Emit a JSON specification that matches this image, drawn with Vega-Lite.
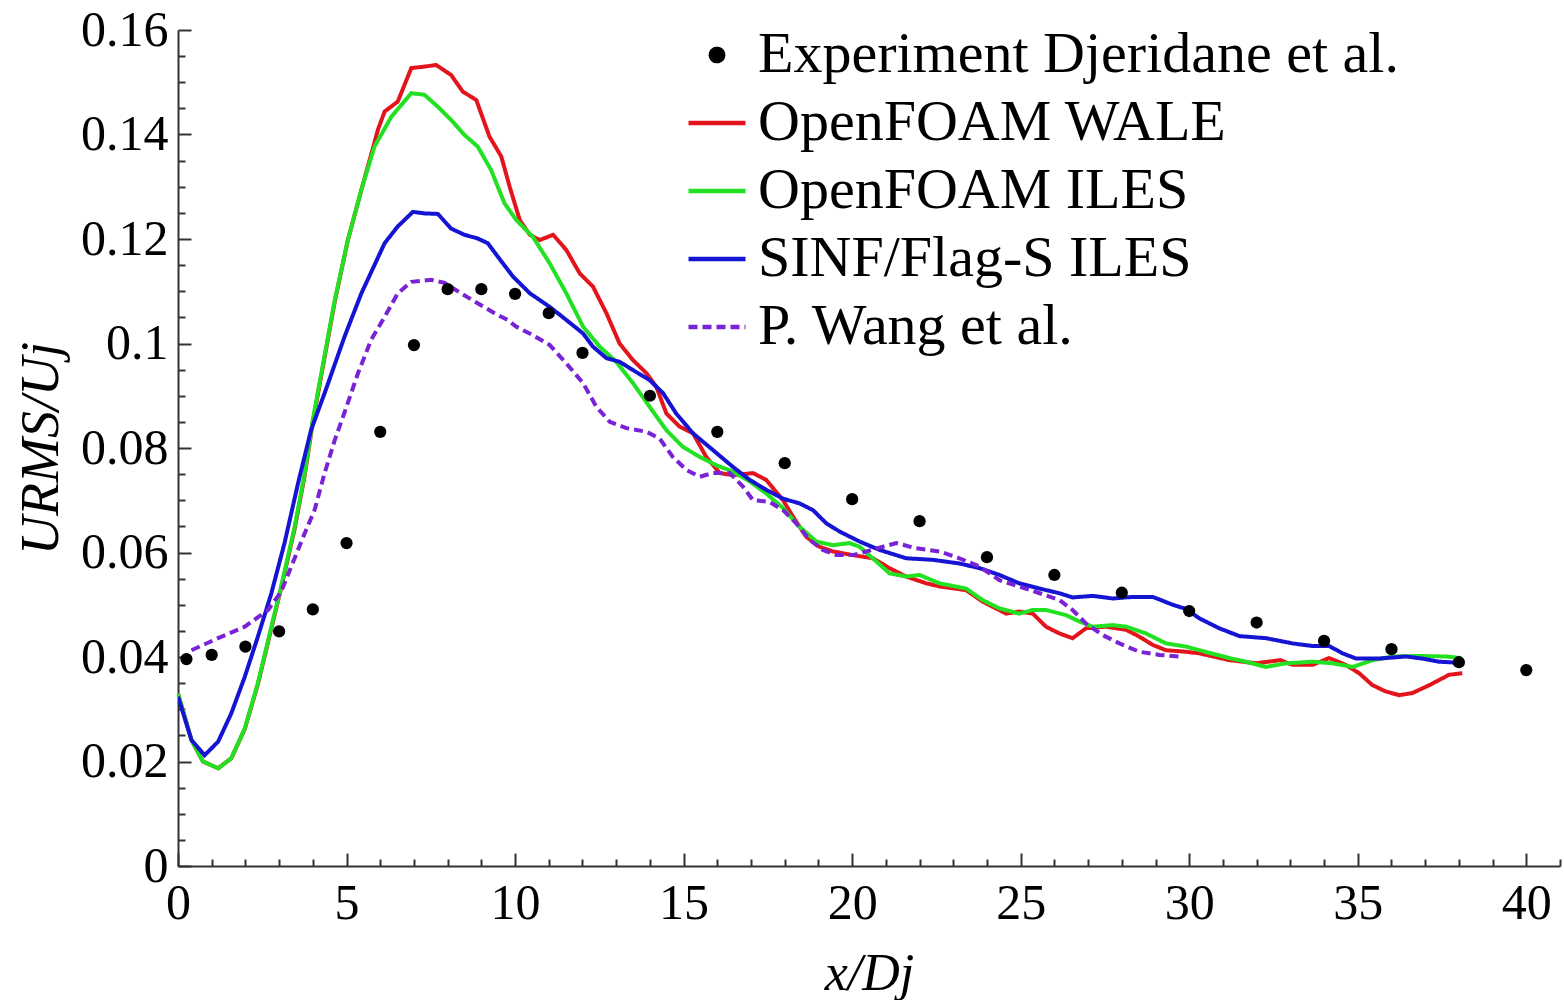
{
  "$schema": "https://vega.github.io/schema/vega-lite/v6.json",
  "width": 1382,
  "height": 836,
  "autosize": {"type": "none"},
  "padding": {"left": 178, "top": 30, "right": 4, "bottom": 134},
  "background": "white",
  "config": {"view": {"stroke": null}, "font": "Liberation Serif"},
  "datasets": {
    "lines": [
      {"series": "OpenFOAM WALE", "x": 0, "y": 0.033},
      {"series": "OpenFOAM WALE", "x": 0.4, "y": 0.0241},
      {"series": "OpenFOAM WALE", "x": 0.74, "y": 0.02},
      {"series": "OpenFOAM WALE", "x": 1.19, "y": 0.0187},
      {"series": "OpenFOAM WALE", "x": 1.58, "y": 0.0206},
      {"series": "OpenFOAM WALE", "x": 1.98, "y": 0.0262},
      {"series": "OpenFOAM WALE", "x": 2.37, "y": 0.0348},
      {"series": "OpenFOAM WALE", "x": 2.77, "y": 0.0455},
      {"series": "OpenFOAM WALE", "x": 3.06, "y": 0.0532},
      {"series": "OpenFOAM WALE", "x": 3.46, "y": 0.0645},
      {"series": "OpenFOAM WALE", "x": 3.76, "y": 0.0748},
      {"series": "OpenFOAM WALE", "x": 4.0, "y": 0.085},
      {"series": "OpenFOAM WALE", "x": 4.65, "y": 0.108},
      {"series": "OpenFOAM WALE", "x": 5.04, "y": 0.1198},
      {"series": "OpenFOAM WALE", "x": 5.44, "y": 0.1294},
      {"series": "OpenFOAM WALE", "x": 5.83, "y": 0.1385},
      {"series": "OpenFOAM WALE", "x": 5.93, "y": 0.1409},
      {"series": "OpenFOAM WALE", "x": 6.13, "y": 0.1444},
      {"series": "OpenFOAM WALE", "x": 6.52, "y": 0.1463},
      {"series": "OpenFOAM WALE", "x": 6.92, "y": 0.1527},
      {"series": "OpenFOAM WALE", "x": 7.31, "y": 0.153},
      {"series": "OpenFOAM WALE", "x": 7.66, "y": 0.1533},
      {"series": "OpenFOAM WALE", "x": 8.1, "y": 0.1514},
      {"series": "OpenFOAM WALE", "x": 8.45, "y": 0.1482},
      {"series": "OpenFOAM WALE", "x": 8.85, "y": 0.1466},
      {"series": "OpenFOAM WALE", "x": 9.24, "y": 0.1396},
      {"series": "OpenFOAM WALE", "x": 9.59, "y": 0.1358},
      {"series": "OpenFOAM WALE", "x": 9.84, "y": 0.13},
      {"series": "OpenFOAM WALE", "x": 10.14, "y": 0.1236},
      {"series": "OpenFOAM WALE", "x": 10.44, "y": 0.1208},
      {"series": "OpenFOAM WALE", "x": 10.73, "y": 0.1198},
      {"series": "OpenFOAM WALE", "x": 11.13, "y": 0.1208},
      {"series": "OpenFOAM WALE", "x": 11.52, "y": 0.1179},
      {"series": "OpenFOAM WALE", "x": 11.92, "y": 0.1134},
      {"series": "OpenFOAM WALE", "x": 12.31, "y": 0.1109},
      {"series": "OpenFOAM WALE", "x": 12.71, "y": 0.1058},
      {"series": "OpenFOAM WALE", "x": 13.1, "y": 0.1},
      {"series": "OpenFOAM WALE", "x": 13.5, "y": 0.0968},
      {"series": "OpenFOAM WALE", "x": 13.9, "y": 0.0943},
      {"series": "OpenFOAM WALE", "x": 14.19, "y": 0.0917},
      {"series": "OpenFOAM WALE", "x": 14.49, "y": 0.0866},
      {"series": "OpenFOAM WALE", "x": 14.88, "y": 0.0841},
      {"series": "OpenFOAM WALE", "x": 15.28, "y": 0.0828},
      {"series": "OpenFOAM WALE", "x": 15.67, "y": 0.0783},
      {"series": "OpenFOAM WALE", "x": 16.07, "y": 0.0752},
      {"series": "OpenFOAM WALE", "x": 16.46, "y": 0.0748},
      {"series": "OpenFOAM WALE", "x": 17.06, "y": 0.0752},
      {"series": "OpenFOAM WALE", "x": 17.45, "y": 0.0739},
      {"series": "OpenFOAM WALE", "x": 17.95, "y": 0.07},
      {"series": "OpenFOAM WALE", "x": 18.24, "y": 0.0669},
      {"series": "OpenFOAM WALE", "x": 18.64, "y": 0.063},
      {"series": "OpenFOAM WALE", "x": 19.03, "y": 0.0611},
      {"series": "OpenFOAM WALE", "x": 19.43, "y": 0.0602},
      {"series": "OpenFOAM WALE", "x": 20.02, "y": 0.0595},
      {"series": "OpenFOAM WALE", "x": 20.61, "y": 0.0589},
      {"series": "OpenFOAM WALE", "x": 21.11, "y": 0.057},
      {"series": "OpenFOAM WALE", "x": 21.6, "y": 0.0554},
      {"series": "OpenFOAM WALE", "x": 22.2, "y": 0.0541},
      {"series": "OpenFOAM WALE", "x": 22.59, "y": 0.0535},
      {"series": "OpenFOAM WALE", "x": 23.38, "y": 0.0528},
      {"series": "OpenFOAM WALE", "x": 23.87, "y": 0.0506},
      {"series": "OpenFOAM WALE", "x": 24.57, "y": 0.0483},
      {"series": "OpenFOAM WALE", "x": 24.96, "y": 0.0487},
      {"series": "OpenFOAM WALE", "x": 25.36, "y": 0.0483},
      {"series": "OpenFOAM WALE", "x": 25.75, "y": 0.0458},
      {"series": "OpenFOAM WALE", "x": 26.15, "y": 0.0445},
      {"series": "OpenFOAM WALE", "x": 26.54, "y": 0.0436},
      {"series": "OpenFOAM WALE", "x": 26.94, "y": 0.0455},
      {"series": "OpenFOAM WALE", "x": 27.53, "y": 0.0458},
      {"series": "OpenFOAM WALE", "x": 28.13, "y": 0.0452},
      {"series": "OpenFOAM WALE", "x": 28.52, "y": 0.0439},
      {"series": "OpenFOAM WALE", "x": 28.92, "y": 0.0423},
      {"series": "OpenFOAM WALE", "x": 29.31, "y": 0.0413},
      {"series": "OpenFOAM WALE", "x": 29.9, "y": 0.041},
      {"series": "OpenFOAM WALE", "x": 30.3, "y": 0.0407},
      {"series": "OpenFOAM WALE", "x": 31.19, "y": 0.0394},
      {"series": "OpenFOAM WALE", "x": 31.98, "y": 0.0388},
      {"series": "OpenFOAM WALE", "x": 32.7, "y": 0.0394},
      {"series": "OpenFOAM WALE", "x": 33.07, "y": 0.0385},
      {"series": "OpenFOAM WALE", "x": 33.66, "y": 0.0385},
      {"series": "OpenFOAM WALE", "x": 34.15, "y": 0.0398},
      {"series": "OpenFOAM WALE", "x": 34.64, "y": 0.0385},
      {"series": "OpenFOAM WALE", "x": 35.04, "y": 0.0369},
      {"series": "OpenFOAM WALE", "x": 35.44, "y": 0.0346},
      {"series": "OpenFOAM WALE", "x": 35.83, "y": 0.0334},
      {"series": "OpenFOAM WALE", "x": 36.23, "y": 0.0327},
      {"series": "OpenFOAM WALE", "x": 36.62, "y": 0.0331},
      {"series": "OpenFOAM WALE", "x": 37.12, "y": 0.0346},
      {"series": "OpenFOAM WALE", "x": 37.71, "y": 0.0366},
      {"series": "OpenFOAM WALE", "x": 38.1, "y": 0.0369},

      {"series": "OpenFOAM ILES", "x": 0, "y": 0.033},
      {"series": "OpenFOAM ILES", "x": 0.4, "y": 0.0241},
      {"series": "OpenFOAM ILES", "x": 0.74, "y": 0.02},
      {"series": "OpenFOAM ILES", "x": 1.19, "y": 0.0187},
      {"series": "OpenFOAM ILES", "x": 1.58, "y": 0.0206},
      {"series": "OpenFOAM ILES", "x": 1.98, "y": 0.0263},
      {"series": "OpenFOAM ILES", "x": 2.37, "y": 0.035},
      {"series": "OpenFOAM ILES", "x": 2.77, "y": 0.0458},
      {"series": "OpenFOAM ILES", "x": 3.06, "y": 0.0535},
      {"series": "OpenFOAM ILES", "x": 3.46, "y": 0.0649},
      {"series": "OpenFOAM ILES", "x": 3.76, "y": 0.0752},
      {"series": "OpenFOAM ILES", "x": 4.0, "y": 0.0854},
      {"series": "OpenFOAM ILES", "x": 4.65, "y": 0.1083},
      {"series": "OpenFOAM ILES", "x": 5.04, "y": 0.1198},
      {"series": "OpenFOAM ILES", "x": 5.44, "y": 0.1294},
      {"series": "OpenFOAM ILES", "x": 5.83, "y": 0.1377},
      {"series": "OpenFOAM ILES", "x": 6.33, "y": 0.1434},
      {"series": "OpenFOAM ILES", "x": 6.92, "y": 0.1479},
      {"series": "OpenFOAM ILES", "x": 7.31, "y": 0.1476},
      {"series": "OpenFOAM ILES", "x": 7.71, "y": 0.1453},
      {"series": "OpenFOAM ILES", "x": 8.1, "y": 0.1428},
      {"series": "OpenFOAM ILES", "x": 8.5, "y": 0.1399},
      {"series": "OpenFOAM ILES", "x": 8.89, "y": 0.1377},
      {"series": "OpenFOAM ILES", "x": 9.29, "y": 0.1332},
      {"series": "OpenFOAM ILES", "x": 9.55, "y": 0.129},
      {"series": "OpenFOAM ILES", "x": 9.69, "y": 0.1268},
      {"series": "OpenFOAM ILES", "x": 10.04, "y": 0.1236},
      {"series": "OpenFOAM ILES", "x": 10.53, "y": 0.1204},
      {"series": "OpenFOAM ILES", "x": 11.03, "y": 0.1153},
      {"series": "OpenFOAM ILES", "x": 11.52, "y": 0.1096},
      {"series": "OpenFOAM ILES", "x": 12.02, "y": 0.1032},
      {"series": "OpenFOAM ILES", "x": 12.51, "y": 0.0994},
      {"series": "OpenFOAM ILES", "x": 13.0, "y": 0.0965},
      {"series": "OpenFOAM ILES", "x": 13.5, "y": 0.0924},
      {"series": "OpenFOAM ILES", "x": 13.99, "y": 0.0879},
      {"series": "OpenFOAM ILES", "x": 14.49, "y": 0.0834},
      {"series": "OpenFOAM ILES", "x": 14.98, "y": 0.0802},
      {"series": "OpenFOAM ILES", "x": 15.48, "y": 0.0783},
      {"series": "OpenFOAM ILES", "x": 15.97, "y": 0.0767},
      {"series": "OpenFOAM ILES", "x": 16.46, "y": 0.0755},
      {"series": "OpenFOAM ILES", "x": 16.96, "y": 0.0736},
      {"series": "OpenFOAM ILES", "x": 17.45, "y": 0.0713},
      {"series": "OpenFOAM ILES", "x": 17.95, "y": 0.0685},
      {"series": "OpenFOAM ILES", "x": 18.44, "y": 0.0649},
      {"series": "OpenFOAM ILES", "x": 18.94, "y": 0.0621},
      {"series": "OpenFOAM ILES", "x": 19.43, "y": 0.0614},
      {"series": "OpenFOAM ILES", "x": 19.92, "y": 0.0618},
      {"series": "OpenFOAM ILES", "x": 20.22, "y": 0.0611},
      {"series": "OpenFOAM ILES", "x": 20.61, "y": 0.0589},
      {"series": "OpenFOAM ILES", "x": 21.11, "y": 0.056},
      {"series": "OpenFOAM ILES", "x": 21.6, "y": 0.0554},
      {"series": "OpenFOAM ILES", "x": 22.0, "y": 0.0557},
      {"series": "OpenFOAM ILES", "x": 22.59, "y": 0.0541},
      {"series": "OpenFOAM ILES", "x": 23.38, "y": 0.0531},
      {"series": "OpenFOAM ILES", "x": 23.87, "y": 0.0509},
      {"series": "OpenFOAM ILES", "x": 24.37, "y": 0.0493},
      {"series": "OpenFOAM ILES", "x": 24.96, "y": 0.0483},
      {"series": "OpenFOAM ILES", "x": 25.36, "y": 0.049},
      {"series": "OpenFOAM ILES", "x": 25.75, "y": 0.049},
      {"series": "OpenFOAM ILES", "x": 26.35, "y": 0.048},
      {"series": "OpenFOAM ILES", "x": 26.74, "y": 0.0468},
      {"series": "OpenFOAM ILES", "x": 27.14, "y": 0.0458},
      {"series": "OpenFOAM ILES", "x": 27.73, "y": 0.0461},
      {"series": "OpenFOAM ILES", "x": 28.13, "y": 0.0458},
      {"series": "OpenFOAM ILES", "x": 28.72, "y": 0.0445},
      {"series": "OpenFOAM ILES", "x": 29.31, "y": 0.0426},
      {"series": "OpenFOAM ILES", "x": 29.9, "y": 0.042},
      {"series": "OpenFOAM ILES", "x": 30.3, "y": 0.0413},
      {"series": "OpenFOAM ILES", "x": 31.19, "y": 0.0398},
      {"series": "OpenFOAM ILES", "x": 31.68, "y": 0.0391},
      {"series": "OpenFOAM ILES", "x": 32.28, "y": 0.0381},
      {"series": "OpenFOAM ILES", "x": 32.87, "y": 0.0388},
      {"series": "OpenFOAM ILES", "x": 33.66, "y": 0.0391},
      {"series": "OpenFOAM ILES", "x": 34.25, "y": 0.0388},
      {"series": "OpenFOAM ILES", "x": 34.85, "y": 0.0381},
      {"series": "OpenFOAM ILES", "x": 35.44, "y": 0.0394},
      {"series": "OpenFOAM ILES", "x": 36.03, "y": 0.0401},
      {"series": "OpenFOAM ILES", "x": 36.82, "y": 0.0402},
      {"series": "OpenFOAM ILES", "x": 37.61, "y": 0.0401},
      {"series": "OpenFOAM ILES", "x": 38.06, "y": 0.0398},

      {"series": "SINF/Flag-S ILES", "x": 0, "y": 0.0324},
      {"series": "SINF/Flag-S ILES", "x": 0.4, "y": 0.0241},
      {"series": "SINF/Flag-S ILES", "x": 0.79, "y": 0.0212},
      {"series": "SINF/Flag-S ILES", "x": 1.19, "y": 0.0238},
      {"series": "SINF/Flag-S ILES", "x": 1.58, "y": 0.0292},
      {"series": "SINF/Flag-S ILES", "x": 1.98, "y": 0.0362},
      {"series": "SINF/Flag-S ILES", "x": 2.37, "y": 0.0439},
      {"series": "SINF/Flag-S ILES", "x": 2.77, "y": 0.0522},
      {"series": "SINF/Flag-S ILES", "x": 3.16, "y": 0.0618},
      {"series": "SINF/Flag-S ILES", "x": 3.56, "y": 0.0732},
      {"series": "SINF/Flag-S ILES", "x": 3.95, "y": 0.0835},
      {"series": "SINF/Flag-S ILES", "x": 4.35, "y": 0.0905},
      {"series": "SINF/Flag-S ILES", "x": 4.94, "y": 0.1013},
      {"series": "SINF/Flag-S ILES", "x": 5.44, "y": 0.1096},
      {"series": "SINF/Flag-S ILES", "x": 6.13, "y": 0.1192},
      {"series": "SINF/Flag-S ILES", "x": 6.52, "y": 0.1224},
      {"series": "SINF/Flag-S ILES", "x": 6.97, "y": 0.1252},
      {"series": "SINF/Flag-S ILES", "x": 7.31, "y": 0.1249},
      {"series": "SINF/Flag-S ILES", "x": 7.71, "y": 0.1248},
      {"series": "SINF/Flag-S ILES", "x": 8.1, "y": 0.122},
      {"series": "SINF/Flag-S ILES", "x": 8.5, "y": 0.1208},
      {"series": "SINF/Flag-S ILES", "x": 8.89, "y": 0.1201},
      {"series": "SINF/Flag-S ILES", "x": 9.19, "y": 0.1192},
      {"series": "SINF/Flag-S ILES", "x": 9.49, "y": 0.1166},
      {"series": "SINF/Flag-S ILES", "x": 9.94, "y": 0.1128},
      {"series": "SINF/Flag-S ILES", "x": 10.44, "y": 0.1096},
      {"series": "SINF/Flag-S ILES", "x": 11.03, "y": 0.107},
      {"series": "SINF/Flag-S ILES", "x": 11.52, "y": 0.1045},
      {"series": "SINF/Flag-S ILES", "x": 12.02, "y": 0.1019},
      {"series": "SINF/Flag-S ILES", "x": 12.31, "y": 0.0994},
      {"series": "SINF/Flag-S ILES", "x": 12.71, "y": 0.0972},
      {"series": "SINF/Flag-S ILES", "x": 13.1, "y": 0.0965},
      {"series": "SINF/Flag-S ILES", "x": 13.5, "y": 0.0949},
      {"series": "SINF/Flag-S ILES", "x": 13.99, "y": 0.093},
      {"series": "SINF/Flag-S ILES", "x": 14.39, "y": 0.0905},
      {"series": "SINF/Flag-S ILES", "x": 14.78, "y": 0.0866},
      {"series": "SINF/Flag-S ILES", "x": 15.28, "y": 0.0828},
      {"series": "SINF/Flag-S ILES", "x": 15.87, "y": 0.0796},
      {"series": "SINF/Flag-S ILES", "x": 16.46, "y": 0.0764},
      {"series": "SINF/Flag-S ILES", "x": 16.96, "y": 0.0739},
      {"series": "SINF/Flag-S ILES", "x": 17.45, "y": 0.072},
      {"series": "SINF/Flag-S ILES", "x": 17.95, "y": 0.0703},
      {"series": "SINF/Flag-S ILES", "x": 18.44, "y": 0.0694},
      {"series": "SINF/Flag-S ILES", "x": 18.84, "y": 0.0681},
      {"series": "SINF/Flag-S ILES", "x": 19.23, "y": 0.0656},
      {"series": "SINF/Flag-S ILES", "x": 19.63, "y": 0.064},
      {"series": "SINF/Flag-S ILES", "x": 20.22, "y": 0.0621},
      {"series": "SINF/Flag-S ILES", "x": 20.81, "y": 0.0605},
      {"series": "SINF/Flag-S ILES", "x": 21.6, "y": 0.0589},
      {"series": "SINF/Flag-S ILES", "x": 22.39, "y": 0.0586},
      {"series": "SINF/Flag-S ILES", "x": 23.18, "y": 0.0579},
      {"series": "SINF/Flag-S ILES", "x": 23.78, "y": 0.057},
      {"series": "SINF/Flag-S ILES", "x": 24.37, "y": 0.0557},
      {"series": "SINF/Flag-S ILES", "x": 24.96, "y": 0.0541},
      {"series": "SINF/Flag-S ILES", "x": 25.56, "y": 0.0531},
      {"series": "SINF/Flag-S ILES", "x": 26.15, "y": 0.0522},
      {"series": "SINF/Flag-S ILES", "x": 26.54, "y": 0.0514},
      {"series": "SINF/Flag-S ILES", "x": 27.14, "y": 0.0517},
      {"series": "SINF/Flag-S ILES", "x": 27.73, "y": 0.0512},
      {"series": "SINF/Flag-S ILES", "x": 28.32, "y": 0.0515},
      {"series": "SINF/Flag-S ILES", "x": 28.92, "y": 0.0515},
      {"series": "SINF/Flag-S ILES", "x": 29.51, "y": 0.05},
      {"series": "SINF/Flag-S ILES", "x": 29.9, "y": 0.0492},
      {"series": "SINF/Flag-S ILES", "x": 30.3, "y": 0.0474},
      {"series": "SINF/Flag-S ILES", "x": 30.89, "y": 0.0455},
      {"series": "SINF/Flag-S ILES", "x": 31.49, "y": 0.044},
      {"series": "SINF/Flag-S ILES", "x": 32.28, "y": 0.0436},
      {"series": "SINF/Flag-S ILES", "x": 33.07, "y": 0.0426},
      {"series": "SINF/Flag-S ILES", "x": 33.66, "y": 0.0421},
      {"series": "SINF/Flag-S ILES", "x": 34.15, "y": 0.0421},
      {"series": "SINF/Flag-S ILES", "x": 34.55, "y": 0.0407},
      {"series": "SINF/Flag-S ILES", "x": 34.95, "y": 0.0397},
      {"series": "SINF/Flag-S ILES", "x": 35.64, "y": 0.0397},
      {"series": "SINF/Flag-S ILES", "x": 36.43, "y": 0.0401},
      {"series": "SINF/Flag-S ILES", "x": 36.92, "y": 0.0397},
      {"series": "SINF/Flag-S ILES", "x": 37.41, "y": 0.0391},
      {"series": "SINF/Flag-S ILES", "x": 38.0, "y": 0.0389},

      {"series": "P. Wang et al.", "x": 0.4, "y": 0.0413},
      {"series": "P. Wang et al.", "x": 1.19, "y": 0.0436},
      {"series": "P. Wang et al.", "x": 1.98, "y": 0.0458},
      {"series": "P. Wang et al.", "x": 2.67, "y": 0.049},
      {"series": "P. Wang et al.", "x": 3.06, "y": 0.0525},
      {"series": "P. Wang et al.", "x": 3.36, "y": 0.0573},
      {"series": "P. Wang et al.", "x": 3.76, "y": 0.0637},
      {"series": "P. Wang et al.", "x": 4.05, "y": 0.0681},
      {"series": "P. Wang et al.", "x": 4.35, "y": 0.0752},
      {"series": "P. Wang et al.", "x": 4.65, "y": 0.0815},
      {"series": "P. Wang et al.", "x": 4.94, "y": 0.0868},
      {"series": "P. Wang et al.", "x": 5.34, "y": 0.0943},
      {"series": "P. Wang et al.", "x": 5.73, "y": 0.1007},
      {"series": "P. Wang et al.", "x": 6.13, "y": 0.1051},
      {"series": "P. Wang et al.", "x": 6.52, "y": 0.1096},
      {"series": "P. Wang et al.", "x": 6.92, "y": 0.1118},
      {"series": "P. Wang et al.", "x": 7.51, "y": 0.1122},
      {"series": "P. Wang et al.", "x": 7.91, "y": 0.1116},
      {"series": "P. Wang et al.", "x": 8.4, "y": 0.1096},
      {"series": "P. Wang et al.", "x": 8.89, "y": 0.1077},
      {"series": "P. Wang et al.", "x": 9.39, "y": 0.1058},
      {"series": "P. Wang et al.", "x": 9.78, "y": 0.1045},
      {"series": "P. Wang et al.", "x": 10.04, "y": 0.1032},
      {"series": "P. Wang et al.", "x": 10.53, "y": 0.1016},
      {"series": "P. Wang et al.", "x": 11.03, "y": 0.0997},
      {"series": "P. Wang et al.", "x": 11.52, "y": 0.0962},
      {"series": "P. Wang et al.", "x": 12.02, "y": 0.0924},
      {"series": "P. Wang et al.", "x": 12.41, "y": 0.0879},
      {"series": "P. Wang et al.", "x": 12.81, "y": 0.085},
      {"series": "P. Wang et al.", "x": 13.3, "y": 0.0838},
      {"series": "P. Wang et al.", "x": 13.9, "y": 0.0831},
      {"series": "P. Wang et al.", "x": 14.29, "y": 0.0818},
      {"series": "P. Wang et al.", "x": 14.68, "y": 0.0783},
      {"series": "P. Wang et al.", "x": 15.08, "y": 0.0758},
      {"series": "P. Wang et al.", "x": 15.48, "y": 0.0745},
      {"series": "P. Wang et al.", "x": 15.87, "y": 0.0752},
      {"series": "P. Wang et al.", "x": 16.37, "y": 0.0752},
      {"series": "P. Wang et al.", "x": 16.76, "y": 0.0726},
      {"series": "P. Wang et al.", "x": 17.06, "y": 0.07},
      {"series": "P. Wang et al.", "x": 17.55, "y": 0.0697},
      {"series": "P. Wang et al.", "x": 17.95, "y": 0.0681},
      {"series": "P. Wang et al.", "x": 18.34, "y": 0.0656},
      {"series": "P. Wang et al.", "x": 18.74, "y": 0.0624},
      {"series": "P. Wang et al.", "x": 19.13, "y": 0.0605},
      {"series": "P. Wang et al.", "x": 19.53, "y": 0.0595},
      {"series": "P. Wang et al.", "x": 20.02, "y": 0.0595},
      {"series": "P. Wang et al.", "x": 20.42, "y": 0.0602},
      {"series": "P. Wang et al.", "x": 20.91, "y": 0.0611},
      {"series": "P. Wang et al.", "x": 21.31, "y": 0.0618},
      {"series": "P. Wang et al.", "x": 21.9, "y": 0.0608},
      {"series": "P. Wang et al.", "x": 22.59, "y": 0.0602},
      {"series": "P. Wang et al.", "x": 23.18, "y": 0.0589},
      {"series": "P. Wang et al.", "x": 23.78, "y": 0.0573},
      {"series": "P. Wang et al.", "x": 24.37, "y": 0.0547},
      {"series": "P. Wang et al.", "x": 24.96, "y": 0.0535},
      {"series": "P. Wang et al.", "x": 25.56, "y": 0.0522},
      {"series": "P. Wang et al.", "x": 26.15, "y": 0.0509},
      {"series": "P. Wang et al.", "x": 26.54, "y": 0.049},
      {"series": "P. Wang et al.", "x": 26.94, "y": 0.0464},
      {"series": "P. Wang et al.", "x": 27.43, "y": 0.0442},
      {"series": "P. Wang et al.", "x": 27.93, "y": 0.0426},
      {"series": "P. Wang et al.", "x": 28.52, "y": 0.041},
      {"series": "P. Wang et al.", "x": 29.12, "y": 0.0404},
      {"series": "P. Wang et al.", "x": 29.68, "y": 0.0401}
    ],
    "exp": [
      {"series": "Experiment Djeridane et al.", "x": 0.25, "y": 0.0396},
      {"series": "Experiment Djeridane et al.", "x": 1, "y": 0.0404},
      {"series": "Experiment Djeridane et al.", "x": 2, "y": 0.042},
      {"series": "Experiment Djeridane et al.", "x": 3, "y": 0.0449},
      {"series": "Experiment Djeridane et al.", "x": 4, "y": 0.0491},
      {"series": "Experiment Djeridane et al.", "x": 5, "y": 0.0618},
      {"series": "Experiment Djeridane et al.", "x": 6, "y": 0.0831},
      {"series": "Experiment Djeridane et al.", "x": 7, "y": 0.0997},
      {"series": "Experiment Djeridane et al.", "x": 8, "y": 0.1104},
      {"series": "Experiment Djeridane et al.", "x": 9, "y": 0.1104},
      {"series": "Experiment Djeridane et al.", "x": 10, "y": 0.1095},
      {"series": "Experiment Djeridane et al.", "x": 11, "y": 0.1058},
      {"series": "Experiment Djeridane et al.", "x": 12, "y": 0.0982},
      {"series": "Experiment Djeridane et al.", "x": 14, "y": 0.09},
      {"series": "Experiment Djeridane et al.", "x": 16, "y": 0.0831},
      {"series": "Experiment Djeridane et al.", "x": 18, "y": 0.0771},
      {"series": "Experiment Djeridane et al.", "x": 20, "y": 0.0702},
      {"series": "Experiment Djeridane et al.", "x": 22, "y": 0.066},
      {"series": "Experiment Djeridane et al.", "x": 24, "y": 0.0591},
      {"series": "Experiment Djeridane et al.", "x": 26, "y": 0.0557},
      {"series": "Experiment Djeridane et al.", "x": 28, "y": 0.0523},
      {"series": "Experiment Djeridane et al.", "x": 30, "y": 0.0488},
      {"series": "Experiment Djeridane et al.", "x": 32, "y": 0.0466},
      {"series": "Experiment Djeridane et al.", "x": 34, "y": 0.0431},
      {"series": "Experiment Djeridane et al.", "x": 36, "y": 0.0415},
      {"series": "Experiment Djeridane et al.", "x": 38, "y": 0.039},
      {"series": "Experiment Djeridane et al.", "x": 40, "y": 0.0375}
    ]
  },
  "encoding": {
    "x": {
      "field": "x", "type": "quantitative",
      "scale": {"domain": [0, 41], "nice": false, "zero": false},
      "axis": {
        "title": "x/Dj",
        "values": [0,1,2,3,4,5,6,7,8,9,10,11,12,13,14,15,16,17,18,19,20,21,22,23,24,25,26,27,28,29,30,31,32,33,34,35,36,37,38,39,40,41],
        "labelExpr": "datum.value % 5 === 0 ? datum.label : ''",
        "labelFont": "Liberation Serif", "labelFontSize": 50, "labelColor": "black",
        "labelPadding": 25, "labelOverlap": false, "labelFlush": false,
        "tickSize": {"condition": {"test": "datum.value % 5 === 0", "value": -13}, "value": -7},
        "tickColor": "#333", "tickWidth": 2,
        "domainColor": "#333", "domainWidth": 2,
        "grid": false,
        "titleFont": "Liberation Serif", "titleFontSize": 52, "titleFontStyle": "italic", "titleFontWeight": "normal", "titleColor": "black",
        "titlePadding": 14
      }
    },
    "y": {
      "field": "y", "type": "quantitative",
      "scale": {"domain": [0, 0.16], "nice": false, "zero": false},
      "axis": {
        "title": "URMS/Uj",
        "values": [0,0.005,0.01,0.015,0.02,0.025,0.03,0.035,0.04,0.045,0.05,0.055,0.06,0.065,0.07,0.075,0.08,0.085,0.09,0.095,0.1,0.105,0.11,0.115,0.12,0.125,0.13,0.135,0.14,0.145,0.15,0.155,0.16],
        "labelExpr": "round(datum.value * 1000) % 20 === 0 ? format(datum.value, '~g') : ''",
        "labelFont": "Liberation Serif", "labelFontSize": 50, "labelColor": "black",
        "labelPadding": 23, "labelOverlap": false, "labelFlush": false,
        "tickSize": {"condition": {"test": "round(datum.value * 1000) % 20 === 0", "value": -13}, "value": -7},
        "tickColor": "#333", "tickWidth": 2,
        "domainColor": "#333", "domainWidth": 2,
        "grid": false,
        "titleFont": "Liberation Serif", "titleFontSize": 54, "titleFontStyle": "italic", "titleFontWeight": "normal", "titleColor": "black",
        "titlePadding": 12
      }
    },
    "color": {
      "field": "series", "type": "nominal",
      "scale": {
        "domain": ["Experiment Djeridane et al.", "OpenFOAM WALE", "OpenFOAM ILES", "SINF/Flag-S ILES", "P. Wang et al."],
        "range": ["black", "#e3141c", "#22e022", "#1414d2", "#7a22d6"]
      },
      "legend": {
        "title": null,
        "orient": "none",
        "legendX": 508,
        "legendY": -4,
        "padding": 0,
        "symbolStrokeWidth": 4.5,
        "labelFont": "Liberation Serif",
        "labelFontSize": 58,
        "labelColor": "black",
        "labelLimit": 2000,
        "labelOffset": 10,
        "rowPadding": 8
      }
    }
  },
  "layer": [
    {
      "data": {"name": "lines"},
      "mark": {"type": "line", "strokeWidth": 4, "clip": true},
      "encoding": {
        "strokeDash": {
          "field": "series", "type": "nominal",
          "scale": {
            "domain": ["Experiment Djeridane et al.", "OpenFOAM WALE", "OpenFOAM ILES", "SINF/Flag-S ILES", "P. Wang et al."],
            "range": [[1, 0], [1, 0], [1, 0], [1, 0], [9, 5]]
          },
          "legend": {"title": null}
        }
      }
    },
    {
      "data": {"name": "exp"},
      "mark": {"type": "point", "filled": true, "opacity": 1},
      "encoding": {
        "shape": {
          "field": "series", "type": "nominal",
          "scale": {
            "domain": ["Experiment Djeridane et al.", "OpenFOAM WALE", "OpenFOAM ILES", "SINF/Flag-S ILES", "P. Wang et al."],
            "range": ["circle", "stroke", "stroke", "stroke", "stroke"]
          },
          "legend": {"title": null}
        },
        "size": {
          "field": "series", "type": "nominal",
          "scale": {
            "type": "ordinal",
            "domain": ["Experiment Djeridane et al.", "OpenFOAM WALE", "OpenFOAM ILES", "SINF/Flag-S ILES", "P. Wang et al."],
            "range": [150, 3249, 3249, 3249, 3249]
          },
          "legend": {"title": null}
        }
      }
    }
  ]
}
